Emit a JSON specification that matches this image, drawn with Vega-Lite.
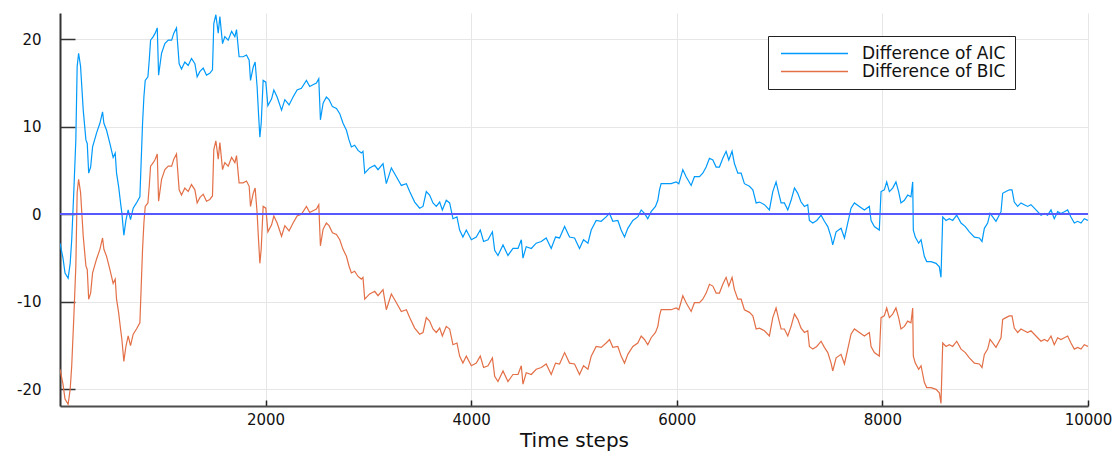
{
"$schema": "https://vega.github.io/schema/vega-lite/v6.json",
"width": 1028, "height": 393,
"autosize": {"type": "none"},
"padding": {"left": 60, "top": 13, "right": 29, "bottom": 47},
"background": "white",
"config": {"view": {"stroke": null}, "font": "DejaVu Sans"},
"data": {"values": [
{"t":1,"AIC":-3.3,"BIC":-17.7},{"t":30,"AIC":-5.0,"BIC":-19.4},{"t":50,"AIC":-6.7,"BIC":-21.1},{"t":80,"AIC":-7.3,"BIC":-21.7},{"t":100,"AIC":-5.6,"BIC":-20.0},{"t":115,"AIC":-2.9,"BIC":-17.3},{"t":136,"AIC":2.8,"BIC":-11.6},{"t":155,"AIC":8.5,"BIC":-5.9},{"t":168,"AIC":16.9,"BIC":2.5},{"t":182,"AIC":18.4,"BIC":4.0},{"t":201,"AIC":16.9,"BIC":2.5},{"t":227,"AIC":11.9,"BIC":-2.5},{"t":253,"AIC":8.5,"BIC":-5.9},{"t":266,"AIC":8.1,"BIC":-6.3},{"t":280,"AIC":4.7,"BIC":-9.7},{"t":299,"AIC":5.4,"BIC":-9.0},{"t":318,"AIC":7.7,"BIC":-6.7},{"t":357,"AIC":9.3,"BIC":-5.1},{"t":389,"AIC":10.4,"BIC":-4.0},{"t":415,"AIC":11.7,"BIC":-2.7},{"t":428,"AIC":10.4,"BIC":-4.0},{"t":454,"AIC":9.6,"BIC":-4.8},{"t":486,"AIC":8.1,"BIC":-6.3},{"t":518,"AIC":6.5,"BIC":-7.9},{"t":538,"AIC":7.0,"BIC":-7.4},{"t":551,"AIC":4.7,"BIC":-9.7},{"t":571,"AIC":3.2,"BIC":-11.2},{"t":590,"AIC":1.3,"BIC":-13.1},{"t":603,"AIC":0.1,"BIC":-14.3},{"t":622,"AIC":-2.4,"BIC":-16.8},{"t":642,"AIC":-0.7,"BIC":-15.1},{"t":664,"AIC":0.5,"BIC":-13.9},{"t":687,"AIC":-0.6,"BIC":-15.0},{"t":713,"AIC":0.7,"BIC":-13.7},{"t":745,"AIC":1.3,"BIC":-13.1},{"t":778,"AIC":2.0,"BIC":-12.4},{"t":791,"AIC":6.2,"BIC":-8.2},{"t":804,"AIC":10.4,"BIC":-4.0},{"t":817,"AIC":13.4,"BIC":-1.0},{"t":830,"AIC":15.3,"BIC":0.9},{"t":856,"AIC":15.7,"BIC":1.3},{"t":869,"AIC":17.6,"BIC":3.2},{"t":882,"AIC":19.9,"BIC":5.5},{"t":908,"AIC":20.3,"BIC":5.9},{"t":927,"AIC":20.7,"BIC":6.3},{"t":947,"AIC":21.3,"BIC":6.9},{"t":960,"AIC":15.9,"BIC":1.5},{"t":989,"AIC":18.4,"BIC":4.0},{"t":1021,"AIC":19.5,"BIC":5.1},{"t":1054,"AIC":19.9,"BIC":5.5},{"t":1087,"AIC":19.9,"BIC":5.5},{"t":1108,"AIC":20.7,"BIC":6.3},{"t":1134,"AIC":21.3,"BIC":6.9},{"t":1160,"AIC":17.2,"BIC":2.8},{"t":1183,"AIC":16.6,"BIC":2.2},{"t":1215,"AIC":17.4,"BIC":3.0},{"t":1248,"AIC":17.0,"BIC":2.6},{"t":1280,"AIC":17.8,"BIC":3.4},{"t":1313,"AIC":17.2,"BIC":2.8},{"t":1335,"AIC":15.7,"BIC":1.3},{"t":1361,"AIC":16.3,"BIC":1.9},{"t":1394,"AIC":16.7,"BIC":2.3},{"t":1426,"AIC":15.9,"BIC":1.5},{"t":1458,"AIC":16.1,"BIC":1.7},{"t":1484,"AIC":16.5,"BIC":2.1},{"t":1497,"AIC":21.8,"BIC":7.4},{"t":1517,"AIC":22.8,"BIC":8.4},{"t":1540,"AIC":20.7,"BIC":6.3},{"t":1556,"AIC":22.6,"BIC":8.2},{"t":1582,"AIC":19.5,"BIC":5.1},{"t":1604,"AIC":20.3,"BIC":5.9},{"t":1637,"AIC":19.9,"BIC":5.5},{"t":1670,"AIC":20.9,"BIC":6.5},{"t":1702,"AIC":20.3,"BIC":5.9},{"t":1718,"AIC":21.1,"BIC":6.7},{"t":1743,"AIC":18.0,"BIC":3.6},{"t":1782,"AIC":18.0,"BIC":3.6},{"t":1815,"AIC":18.2,"BIC":3.8},{"t":1841,"AIC":17.6,"BIC":3.2},{"t":1854,"AIC":15.3,"BIC":0.9},{"t":1880,"AIC":16.8,"BIC":2.4},{"t":1899,"AIC":17.4,"BIC":3.0},{"t":1918,"AIC":14.6,"BIC":0.2},{"t":1932,"AIC":11.5,"BIC":-2.9},{"t":1945,"AIC":8.8,"BIC":-5.6},{"t":1958,"AIC":10.4,"BIC":-4.0},{"t":1977,"AIC":15.3,"BIC":0.9},{"t":2003,"AIC":15.1,"BIC":0.7},{"t":2023,"AIC":12.4,"BIC":-2.0},{"t":2059,"AIC":13.2,"BIC":-1.2},{"t":2081,"AIC":14.2,"BIC":-0.2},{"t":2113,"AIC":13.4,"BIC":-1.0},{"t":2156,"AIC":11.9,"BIC":-2.5},{"t":2188,"AIC":13.1,"BIC":-1.3},{"t":2229,"AIC":12.5,"BIC":-1.9},{"t":2268,"AIC":13.4,"BIC":-1.0},{"t":2307,"AIC":14.2,"BIC":-0.2},{"t":2349,"AIC":14.4,"BIC":0.0},{"t":2398,"AIC":15.3,"BIC":0.9},{"t":2430,"AIC":14.6,"BIC":0.2},{"t":2462,"AIC":14.8,"BIC":0.4},{"t":2495,"AIC":15.0,"BIC":0.6},{"t":2518,"AIC":15.5,"BIC":1.1},{"t":2534,"AIC":10.8,"BIC":-3.6},{"t":2560,"AIC":12.7,"BIC":-1.7},{"t":2592,"AIC":13.4,"BIC":-1.0},{"t":2618,"AIC":13.1,"BIC":-1.3},{"t":2651,"AIC":12.3,"BIC":-2.1},{"t":2690,"AIC":12.1,"BIC":-2.3},{"t":2722,"AIC":11.5,"BIC":-2.9},{"t":2754,"AIC":10.4,"BIC":-4.0},{"t":2787,"AIC":9.6,"BIC":-4.8},{"t":2812,"AIC":8.5,"BIC":-5.9},{"t":2835,"AIC":7.7,"BIC":-6.7},{"t":2867,"AIC":7.9,"BIC":-6.5},{"t":2900,"AIC":7.3,"BIC":-7.1},{"t":2932,"AIC":7.0,"BIC":-7.4},{"t":2948,"AIC":7.2,"BIC":-7.2},{"t":2965,"AIC":4.7,"BIC":-9.7},{"t":3013,"AIC":5.3,"BIC":-9.1},{"t":3062,"AIC":5.6,"BIC":-8.8},{"t":3094,"AIC":5.1,"BIC":-9.3},{"t":3143,"AIC":5.8,"BIC":-8.6},{"t":3175,"AIC":3.5,"BIC":-10.9},{"t":3224,"AIC":5.3,"BIC":-9.1},{"t":3273,"AIC":4.3,"BIC":-10.1},{"t":3321,"AIC":3.3,"BIC":-11.1},{"t":3370,"AIC":3.5,"BIC":-10.9},{"t":3402,"AIC":2.6,"BIC":-11.8},{"t":3451,"AIC":1.4,"BIC":-13.0},{"t":3499,"AIC":0.7,"BIC":-13.7},{"t":3532,"AIC":0.9,"BIC":-13.5},{"t":3564,"AIC":2.6,"BIC":-11.8},{"t":3596,"AIC":2.2,"BIC":-12.2},{"t":3629,"AIC":1.3,"BIC":-13.1},{"t":3661,"AIC":0.9,"BIC":-13.5},{"t":3694,"AIC":1.4,"BIC":-13.0},{"t":3720,"AIC":0.5,"BIC":-13.9},{"t":3758,"AIC":1.6,"BIC":-12.8},{"t":3791,"AIC":1.3,"BIC":-13.1},{"t":3823,"AIC":-0.5,"BIC":-14.9},{"t":3862,"AIC":-0.3,"BIC":-14.7},{"t":3888,"AIC":-1.8,"BIC":-16.2},{"t":3920,"AIC":-2.6,"BIC":-17.0},{"t":3953,"AIC":-1.8,"BIC":-16.2},{"t":4002,"AIC":-2.9,"BIC":-17.3},{"t":4050,"AIC":-2.6,"BIC":-17.0},{"t":4089,"AIC":-1.8,"BIC":-16.2},{"t":4121,"AIC":-3.1,"BIC":-17.5},{"t":4164,"AIC":-2.9,"BIC":-17.3},{"t":4207,"AIC":-2.0,"BIC":-16.4},{"t":4229,"AIC":-4.1,"BIC":-18.5},{"t":4261,"AIC":-4.7,"BIC":-19.1},{"t":4310,"AIC":-3.5,"BIC":-17.9},{"t":4358,"AIC":-4.7,"BIC":-19.1},{"t":4407,"AIC":-3.9,"BIC":-18.3},{"t":4456,"AIC":-3.9,"BIC":-18.3},{"t":4488,"AIC":-2.9,"BIC":-17.3},{"t":4504,"AIC":-5.0,"BIC":-19.4},{"t":4536,"AIC":-3.7,"BIC":-18.1},{"t":4585,"AIC":-3.9,"BIC":-18.3},{"t":4633,"AIC":-3.3,"BIC":-17.7},{"t":4682,"AIC":-3.1,"BIC":-17.5},{"t":4730,"AIC":-2.7,"BIC":-17.1},{"t":4779,"AIC":-3.9,"BIC":-18.3},{"t":4821,"AIC":-2.6,"BIC":-17.0},{"t":4860,"AIC":-2.7,"BIC":-17.1},{"t":4909,"AIC":-1.4,"BIC":-15.8},{"t":4957,"AIC":-2.6,"BIC":-17.0},{"t":5006,"AIC":-2.7,"BIC":-17.1},{"t":5054,"AIC":-3.9,"BIC":-18.3},{"t":5093,"AIC":-2.9,"BIC":-17.3},{"t":5136,"AIC":-3.3,"BIC":-17.7},{"t":5168,"AIC":-1.8,"BIC":-16.2},{"t":5216,"AIC":-0.7,"BIC":-15.1},{"t":5265,"AIC":-0.8,"BIC":-15.2},{"t":5313,"AIC":-0.3,"BIC":-14.7},{"t":5346,"AIC":0.1,"BIC":-14.3},{"t":5378,"AIC":-0.8,"BIC":-15.2},{"t":5427,"AIC":-0.7,"BIC":-15.1},{"t":5459,"AIC":-1.8,"BIC":-16.2},{"t":5492,"AIC":-2.6,"BIC":-17.0},{"t":5524,"AIC":-1.6,"BIC":-16.0},{"t":5573,"AIC":-0.7,"BIC":-15.1},{"t":5621,"AIC":-0.3,"BIC":-14.7},{"t":5654,"AIC":0.5,"BIC":-13.9},{"t":5686,"AIC":0.1,"BIC":-14.3},{"t":5718,"AIC":-0.5,"BIC":-14.9},{"t":5751,"AIC":0.3,"BIC":-14.1},{"t":5793,"AIC":0.9,"BIC":-13.5},{"t":5816,"AIC":1.6,"BIC":-12.8},{"t":5832,"AIC":2.8,"BIC":-11.6},{"t":5848,"AIC":3.5,"BIC":-10.9},{"t":5897,"AIC":3.5,"BIC":-10.9},{"t":5945,"AIC":3.5,"BIC":-10.9},{"t":5994,"AIC":3.7,"BIC":-10.7},{"t":6020,"AIC":3.5,"BIC":-10.9},{"t":6059,"AIC":5.1,"BIC":-9.3},{"t":6091,"AIC":4.3,"BIC":-10.1},{"t":6140,"AIC":3.3,"BIC":-11.1},{"t":6172,"AIC":4.3,"BIC":-10.1},{"t":6221,"AIC":4.3,"BIC":-10.1},{"t":6253,"AIC":4.7,"BIC":-9.7},{"t":6286,"AIC":5.4,"BIC":-9.0},{"t":6318,"AIC":6.4,"BIC":-8.0},{"t":6351,"AIC":6.2,"BIC":-8.2},{"t":6383,"AIC":5.4,"BIC":-9.0},{"t":6415,"AIC":5.4,"BIC":-9.0},{"t":6448,"AIC":6.4,"BIC":-8.0},{"t":6480,"AIC":7.2,"BIC":-7.2},{"t":6506,"AIC":6.2,"BIC":-8.2},{"t":6538,"AIC":7.2,"BIC":-7.2},{"t":6561,"AIC":5.8,"BIC":-8.6},{"t":6594,"AIC":4.7,"BIC":-9.7},{"t":6626,"AIC":4.7,"BIC":-9.7},{"t":6658,"AIC":3.5,"BIC":-10.9},{"t":6707,"AIC":3.2,"BIC":-11.2},{"t":6740,"AIC":2.8,"BIC":-11.6},{"t":6772,"AIC":1.3,"BIC":-13.1},{"t":6804,"AIC":1.4,"BIC":-13.0},{"t":6853,"AIC":1.1,"BIC":-13.3},{"t":6901,"AIC":0.5,"BIC":-13.9},{"t":6934,"AIC":2.6,"BIC":-11.8},{"t":6966,"AIC":3.7,"BIC":-10.7},{"t":6992,"AIC":2.4,"BIC":-12.0},{"t":7015,"AIC":1.3,"BIC":-13.1},{"t":7047,"AIC":1.3,"BIC":-13.1},{"t":7080,"AIC":0.5,"BIC":-13.9},{"t":7112,"AIC":1.6,"BIC":-12.8},{"t":7145,"AIC":3.0,"BIC":-11.4},{"t":7177,"AIC":2.4,"BIC":-12.0},{"t":7209,"AIC":1.4,"BIC":-13.0},{"t":7242,"AIC":0.9,"BIC":-13.5},{"t":7274,"AIC":1.1,"BIC":-13.3},{"t":7290,"AIC":-0.7,"BIC":-15.1},{"t":7323,"AIC":-1.0,"BIC":-15.4},{"t":7362,"AIC":-0.7,"BIC":-15.1},{"t":7404,"AIC":-0.1,"BIC":-14.5},{"t":7436,"AIC":-0.8,"BIC":-15.2},{"t":7469,"AIC":-1.4,"BIC":-15.8},{"t":7501,"AIC":-2.6,"BIC":-17.0},{"t":7517,"AIC":-3.5,"BIC":-17.9},{"t":7550,"AIC":-2.0,"BIC":-16.4},{"t":7598,"AIC":-1.6,"BIC":-16.0},{"t":7631,"AIC":-2.7,"BIC":-17.1},{"t":7663,"AIC":-1.0,"BIC":-15.4},{"t":7695,"AIC":0.7,"BIC":-13.7},{"t":7728,"AIC":1.3,"BIC":-13.1},{"t":7776,"AIC":0.9,"BIC":-13.5},{"t":7825,"AIC":0.5,"BIC":-13.9},{"t":7873,"AIC":0.9,"BIC":-13.5},{"t":7890,"AIC":-0.7,"BIC":-15.1},{"t":7922,"AIC":-1.4,"BIC":-15.8},{"t":7970,"AIC":-1.8,"BIC":-16.2},{"t":7987,"AIC":2.6,"BIC":-11.8},{"t":8019,"AIC":2.8,"BIC":-11.6},{"t":8042,"AIC":3.7,"BIC":-10.7},{"t":8068,"AIC":2.6,"BIC":-11.8},{"t":8100,"AIC":3.0,"BIC":-11.4},{"t":8132,"AIC":3.7,"BIC":-10.7},{"t":8158,"AIC":2.6,"BIC":-11.8},{"t":8181,"AIC":1.3,"BIC":-13.1},{"t":8214,"AIC":1.6,"BIC":-12.8},{"t":8246,"AIC":2.2,"BIC":-12.2},{"t":8278,"AIC":2.0,"BIC":-12.4},{"t":8295,"AIC":3.7,"BIC":-10.7},{"t":8301,"AIC":-1.8,"BIC":-16.2},{"t":8320,"AIC":-2.6,"BIC":-17.0},{"t":8353,"AIC":-3.3,"BIC":-17.7},{"t":8376,"AIC":-2.9,"BIC":-17.3},{"t":8408,"AIC":-4.8,"BIC":-19.2},{"t":8431,"AIC":-5.4,"BIC":-19.8},{"t":8473,"AIC":-5.4,"BIC":-19.8},{"t":8522,"AIC":-5.6,"BIC":-20.0},{"t":8554,"AIC":-6.0,"BIC":-20.4},{"t":8570,"AIC":-7.2,"BIC":-21.6},{"t":8587,"AIC":-0.3,"BIC":-14.7},{"t":8619,"AIC":-0.7,"BIC":-15.1},{"t":8651,"AIC":-0.5,"BIC":-14.9},{"t":8684,"AIC":-0.7,"BIC":-15.1},{"t":8723,"AIC":-0.1,"BIC":-14.5},{"t":8765,"AIC":-1.0,"BIC":-15.4},{"t":8807,"AIC":-1.4,"BIC":-15.8},{"t":8846,"AIC":-2.0,"BIC":-16.4},{"t":8895,"AIC":-2.6,"BIC":-17.0},{"t":8943,"AIC":-2.7,"BIC":-17.1},{"t":8969,"AIC":-3.1,"BIC":-17.5},{"t":8992,"AIC":-1.6,"BIC":-16.0},{"t":9024,"AIC":-1.0,"BIC":-15.4},{"t":9047,"AIC":0.1,"BIC":-14.3},{"t":9073,"AIC":-0.3,"BIC":-14.7},{"t":9105,"AIC":-0.8,"BIC":-15.2},{"t":9154,"AIC":0.3,"BIC":-14.1},{"t":9170,"AIC":2.4,"BIC":-12.0},{"t":9202,"AIC":2.6,"BIC":-11.8},{"t":9235,"AIC":2.8,"BIC":-11.6},{"t":9261,"AIC":2.8,"BIC":-11.6},{"t":9283,"AIC":1.4,"BIC":-13.0},{"t":9316,"AIC":0.9,"BIC":-13.5},{"t":9348,"AIC":1.3,"BIC":-13.1},{"t":9380,"AIC":1.1,"BIC":-13.3},{"t":9413,"AIC":0.9,"BIC":-13.5},{"t":9445,"AIC":1.1,"BIC":-13.3},{"t":9478,"AIC":0.7,"BIC":-13.7},{"t":9510,"AIC":0.3,"BIC":-14.1},{"t":9543,"AIC":-0.1,"BIC":-14.5},{"t":9575,"AIC":0.1,"BIC":-14.3},{"t":9607,"AIC":-0.1,"BIC":-14.5},{"t":9640,"AIC":0.5,"BIC":-13.9},{"t":9672,"AIC":-0.5,"BIC":-14.9},{"t":9705,"AIC":0.3,"BIC":-14.1},{"t":9737,"AIC":0.1,"BIC":-14.3},{"t":9770,"AIC":0.3,"BIC":-14.1},{"t":9802,"AIC":0.5,"BIC":-13.9},{"t":9834,"AIC":-0.3,"BIC":-14.7},{"t":9867,"AIC":-1.0,"BIC":-15.4},{"t":9899,"AIC":-0.8,"BIC":-15.2},{"t":9932,"AIC":-1.0,"BIC":-15.4},{"t":9964,"AIC":-0.5,"BIC":-14.9},{"t":10000,"AIC":-0.7,"BIC":-15.1}
]},
"layer": [
 {
  "transform": [{"fold": ["AIC", "BIC"], "as": ["series", "v"]}],
  "mark": {"type": "line", "strokeWidth": 1.2, "clip": true},
  "encoding": {
   "x": {"field": "t", "type": "quantitative",
     "scale": {"domain": [1, 10000], "nice": false, "zero": false},
     "axis": {"title": "Time steps", "values": [2000, 4000, 6000, 8000, 10000], "format": "d",
       "labelFont": "DejaVu Sans", "labelFontSize": 15, "labelColor": "#111111", "labelFlush": false, "labelOverlap": false,
       "tickSize": -6, "tickColor": "#222222", "tickWidth": 1.5, "labelPadding": 12,
       "domainColor": "#4d4d4d", "domainWidth": 2, "grid": true, "gridColor": "#e6e6e6", "gridWidth": 1,
       "titleFont": "DejaVu Sans", "titleFontSize": 20, "titleFontWeight": "normal", "titleColor": "#111111",
       "titleBaseline": "alphabetic", "titleY": 40, "titleX": 514, "titleAlign": "center"}},
   "y": {"field": "v", "type": "quantitative",
     "scale": {"domain": [-21.9, 23.0], "nice": false, "zero": false},
     "axis": {"title": null, "values": [-20, -10, 0, 10, 20], "labelExpr": "toString(datum.value)",
       "labelFont": "DejaVu Sans", "labelFontSize": 15, "labelColor": "#111111",
       "tickSize": -15, "tickColor": "#333333", "tickWidth": 1.5, "labelPadding": 34,
       "domainColor": "#333333", "domainWidth": 2, "grid": true, "gridColor": "#e6e6e6", "gridWidth": 1}},
   "color": {"field": "series", "type": "nominal",
     "scale": {"domain": ["AIC", "BIC"], "range": ["#009AFA", "#E36F47"]},
     "legend": {"title": null, "orient": "none", "legendX": 708, "legendY": 23, "direction": "vertical",
       "fillColor": "white", "strokeColor": "#222222", "padding": 9, "cornerRadius": 0,
       "symbolType": "M-0.6,0H8.33", "symbolSize": 225, "symbolStrokeWidth": 1.3,
       "labelOffset": 68, "labelFont": "DejaVu Sans", "labelFontSize": 17, "labelColor": "#111111", "rowPadding": 0,
       "labelExpr": "'Difference of ' + datum.label"}}
  }
 },
 {
  "mark": {"type": "rule", "color": "#5a5aff", "strokeWidth": 0.8},
  "encoding": {"y": {"datum": 0}}
 }
]
}
